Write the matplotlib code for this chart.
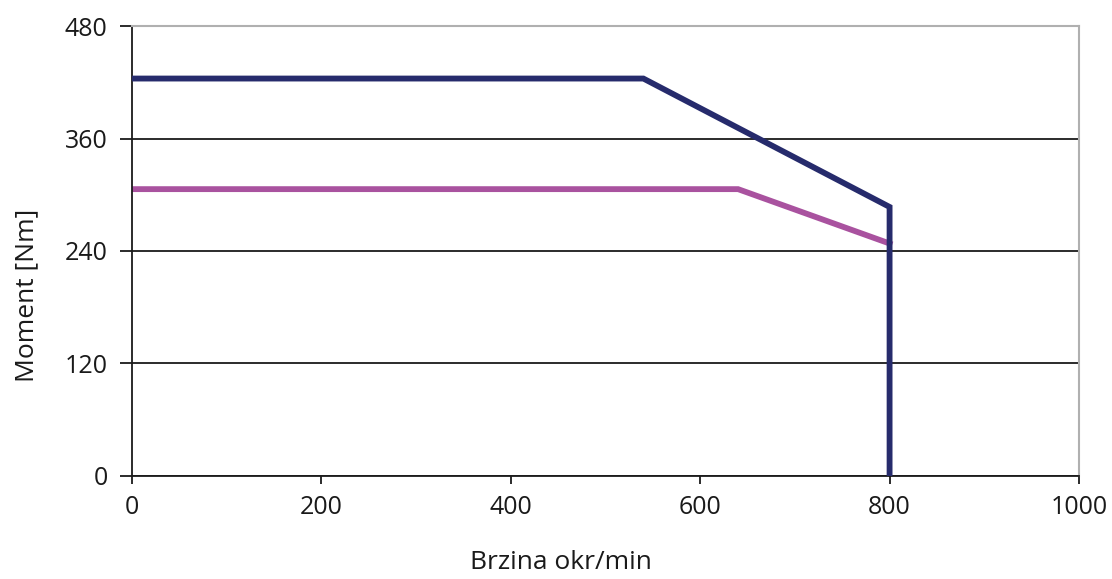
import matplotlib
matplotlib.use("Agg")
import matplotlib.pyplot as plt

# Data
speed_navy = [0, 540, 800, 800]
torque_navy = [424, 424, 287, 0]
speed_pink = [0, 640, 800]
torque_pink = [306, 306, 248]
x_ticks = [0, 200, 400, 600, 800, 1000]
y_ticks = [0, 120, 240, 360, 480]
x_label = "Brzina okr/min"
y_label = "Moment [Nm]"

plt.rcParams['font.family'] = ['Open Sans', 'DejaVu Sans']

fig = plt.figure(figsize=(11.12, 5.79), dpi=100)
ax = fig.add_axes([0.1187, 0.178, 0.8516, 0.777])

ax.plot(speed_navy, torque_navy, color='#262B6C', lw=4.2, solid_joinstyle='miter', zorder=3)
ax.plot(speed_pink, torque_pink, color='#A9529F', lw=4.2, solid_joinstyle='miter', zorder=2)

ax.set_xlim(0, 1000)
ax.set_ylim(0, 480)
ax.set_xticks(x_ticks)
ax.set_yticks(y_ticks)
ax.yaxis.grid(True, color='#1a1a1a', lw=1.3)
ax.set_axisbelow(True)

for s in ['top', 'right']:
    ax.spines[s].set_color('#b0b0b0')
    ax.spines[s].set_linewidth(1.5)
for s in ['left', 'bottom']:
    ax.spines[s].set_color('#1a1a1a')
    ax.spines[s].set_linewidth(1.3)

ax.tick_params(axis='both', direction='out', width=1.3, color='#1a1a1a',
               labelsize=18, labelcolor='#1a1a1a')
ax.tick_params(axis='x', length=6, pad=8)
ax.tick_params(axis='y', length=8.5, pad=9)
ax.set_xlabel(x_label, fontsize=19, color='#1a1a1a', va='center', ha='center')
ax.set_ylabel(y_label, fontsize=19, color='#1a1a1a', va='center', ha='center')
ax.xaxis.set_label_coords(0.453, -0.193)
ax.yaxis.set_label_coords(-0.111, 0.402)

fig.savefig('out.png', dpi=100)
